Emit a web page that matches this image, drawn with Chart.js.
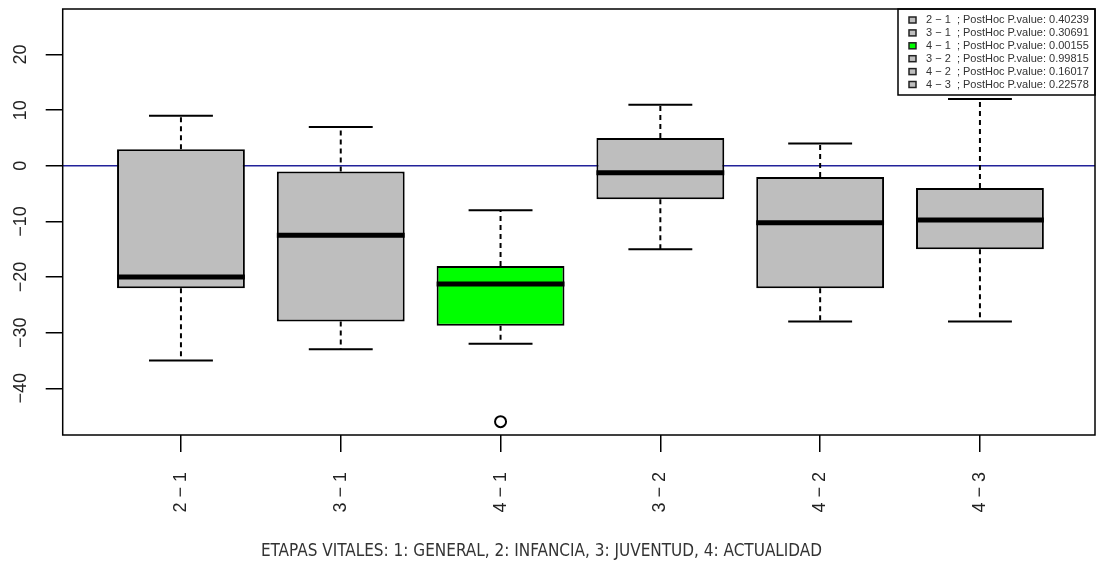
<!DOCTYPE html>
<html>
<head>
<meta charset="utf-8">
<script src="https://cdn.jsdelivr.net/npm/chart.js@4"></script>
<style>
  html, body { margin: 0; padding: 0; background: #fff; }
  #wrap { width: 1099px; height: 561px; position: relative; }
</style>
</head>
<body>
<div id="wrap"><canvas id="box-chart"></canvas></div>
<script>
const labels = ["2 − 1", "3 − 1", "4 − 1", "3 − 2", "4 − 2", "4 − 3"];
const lowerWhisker = [-35, -33, -32, -15, -28, -28];
const q1 = [-22, -28, -28.75, -6, -22, -15];
const median = [-20, -12.5, -21.25, -1.25, -10.25, -9.75];
const q3 = [3, -1, -18, 5, -2, -4];
const upperWhisker = [9, 7, -8, 11, 4, 12];
const outliers = [[], [], [-46], [], [], []];
const pValues = ["0.40239", "0.30691", "0.00155", "0.99815", "0.16017", "0.22578"];
const boxColors = ["#BEBEBE", "#BEBEBE", "#00FF00", "#BEBEBE", "#BEBEBE", "#BEBEBE"];
const caption = "ETAPAS VITALES: 1: GENERAL, 2: INFANCIA, 3: JUVENTUD, 4: ACTUALIDAD";

const boxHalf = 0.4;
const capHalf = 0.2;

// segments split by a y:null point so each line dataset draws separate pieces
const whiskerPts = [];
const capPts = [];
const medianPts = [];
labels.forEach((l, i) => {
  const x = i + 1;
  whiskerPts.push({ x, y: q3[i] }, { x, y: upperWhisker[i] }, { x, y: null });
  whiskerPts.push({ x, y: q1[i] }, { x, y: lowerWhisker[i] }, { x, y: null });
  capPts.push({ x: x - capHalf, y: upperWhisker[i] }, { x: x + capHalf, y: upperWhisker[i] }, { x, y: null });
  capPts.push({ x: x - capHalf, y: lowerWhisker[i] }, { x: x + capHalf, y: lowerWhisker[i] }, { x, y: null });
  medianPts.push({ x: x - boxHalf, y: median[i] }, { x: x + boxHalf, y: median[i] }, { x, y: null });
});
const outlierPts = [];
outliers.forEach((arr, i) => arr.forEach((v) => outlierPts.push({ x: i + 1, y: v })));

const refLine = {
  id: "refLine",
  beforeDatasetsDraw(chart) {
    const { ctx, chartArea } = chart;
    const y = chart.scales.y.getPixelForValue(0);
    ctx.save();
    ctx.strokeStyle = "#22229a";
    ctx.lineWidth = 1.5;
    ctx.beginPath();
    ctx.moveTo(chartArea.left, y);
    ctx.lineTo(chartArea.right, y);
    ctx.stroke();
    ctx.restore();
  },
  afterDraw(chart) {
    const { ctx, chartArea } = chart;
    ctx.save();
    // legend box, top right
    const lw = 197, lh = 86;
    const lx = chartArea.right - lw, ly = chartArea.top;
    ctx.fillStyle = "#fff";
    ctx.fillRect(lx, ly, lw, lh);
    ctx.strokeStyle = "#000";
    ctx.lineWidth = 1.5;
    ctx.strokeRect(lx, ly, lw, lh);
    ctx.font = "11px 'Liberation Sans', Arial, sans-serif";
    ctx.textBaseline = "middle";
    labels.forEach((l, i) => {
      const cy = ly + 11 + i * 12.9;
      ctx.fillStyle = boxColors[i];
      ctx.fillRect(lx + 11, cy - 3, 7, 6);
      ctx.lineWidth = 1.5;
      ctx.strokeStyle = "#222";
      ctx.strokeRect(lx + 11, cy - 3, 7, 6);
      ctx.fillStyle = "#333";
      ctx.fillText(l + "  ; PostHoc P.value: " + pValues[i], lx + 28, cy);
    });
    // frame around the plot
    ctx.strokeStyle = "#000";
    ctx.lineWidth = 1.5;
    ctx.strokeRect(chartArea.left, chartArea.top, chartArea.right - chartArea.left, chartArea.bottom - chartArea.top);
    // caption under the axis
    ctx.fillStyle = "#333";
    ctx.font = "17px 'Liberation Sans Narrow', 'DejaVu Sans Condensed', sans-serif";
    ctx.textAlign = "center";
    ctx.textBaseline = "middle";
    ctx.fillText(caption, chart.width / 2 - 8, chart.height - 9);
    ctx.restore();
  },
};

const tickFont = { family: "'Liberation Sans', Arial, sans-serif", size: 18 };

const ctx = document.getElementById("box-chart");
new Chart(ctx, {
  type: "bar",
  data: {
    datasets: [
      {
        type: "line",
        data: whiskerPts,
        borderColor: "#000",
        borderWidth: 2,
        borderDash: [5, 4],
        pointRadius: 0,
        spanGaps: false,
        order: 5,
      },
      {
        type: "bar",
        data: labels.map((l, i) => ({ x: i + 1, y: [q1[i], q3[i]] })),
        backgroundColor: boxColors,
        borderColor: "#000",
        borderWidth: 2,
        borderSkipped: false,
        categoryPercentage: 0.8,
        barPercentage: 1,
        order: 4,
      },
      {
        type: "line",
        data: capPts,
        borderColor: "#000",
        borderWidth: 2,
        pointRadius: 0,
        spanGaps: false,
        order: 3,
      },
      {
        type: "line",
        data: medianPts,
        borderColor: "#000",
        borderWidth: 5,
        borderCapStyle: "butt",
        pointRadius: 0,
        spanGaps: false,
        order: 2,
      },
      {
        type: "scatter",
        data: outlierPts,
        pointStyle: "circle",
        pointRadius: 5.5,
        borderColor: "#000",
        borderWidth: 2,
        backgroundColor: "rgba(0,0,0,0)",
        order: 1,
      },
    ],
  },
  options: {
    responsive: true,
    maintainAspectRatio: false,
    animation: false,
    events: [],
    layout: { autoPadding: false, padding: { left: 0, top: 9, right: 4, bottom: 0 } },
    plugins: { legend: { display: false }, tooltip: { enabled: false } },
    scales: {
      x: {
        type: "linear",
        min: 0.26,
        max: 6.72,
        offset: false,
        border: { display: false },
        grid: { offset: false, drawOnChartArea: false, tickLength: 17, tickColor: "#000", lineWidth: 1.5 },
        ticks: {
          stepSize: 1,
          includeBounds: false,
          autoSkip: false,
          minRotation: 90,
          maxRotation: 90,
          padding: 20,
          color: "#222",
          font: tickFont,
          callback: (v) => (Number.isInteger(v) ? labels[v - 1] : ""),
        },
        afterFit: (scale) => {
          scale.height = 126;
          scale.paddingLeft = 0;
          scale.paddingRight = 0;
        },
      },
      y: {
        min: -48.4,
        max: 28.2,
        border: { display: false },
        grid: { drawOnChartArea: false, tickLength: 17, tickColor: "#000", lineWidth: 1.5 },
        ticks: {
          stepSize: 10,
          includeBounds: false,
          minRotation: 90,
          maxRotation: 90,
          crossAlign: "center",
          padding: 9,
          color: "#222",
          font: tickFont,
          callback: (v) => String(v).replace("-", "−"),
        },
        afterFit: (scale) => {
          scale.width = 62.7;
          scale.paddingTop = 0;
          scale.paddingBottom = 0;
        },
      },
    },
  },
  plugins: [refLine],
});
</script>
</body>
</html>
